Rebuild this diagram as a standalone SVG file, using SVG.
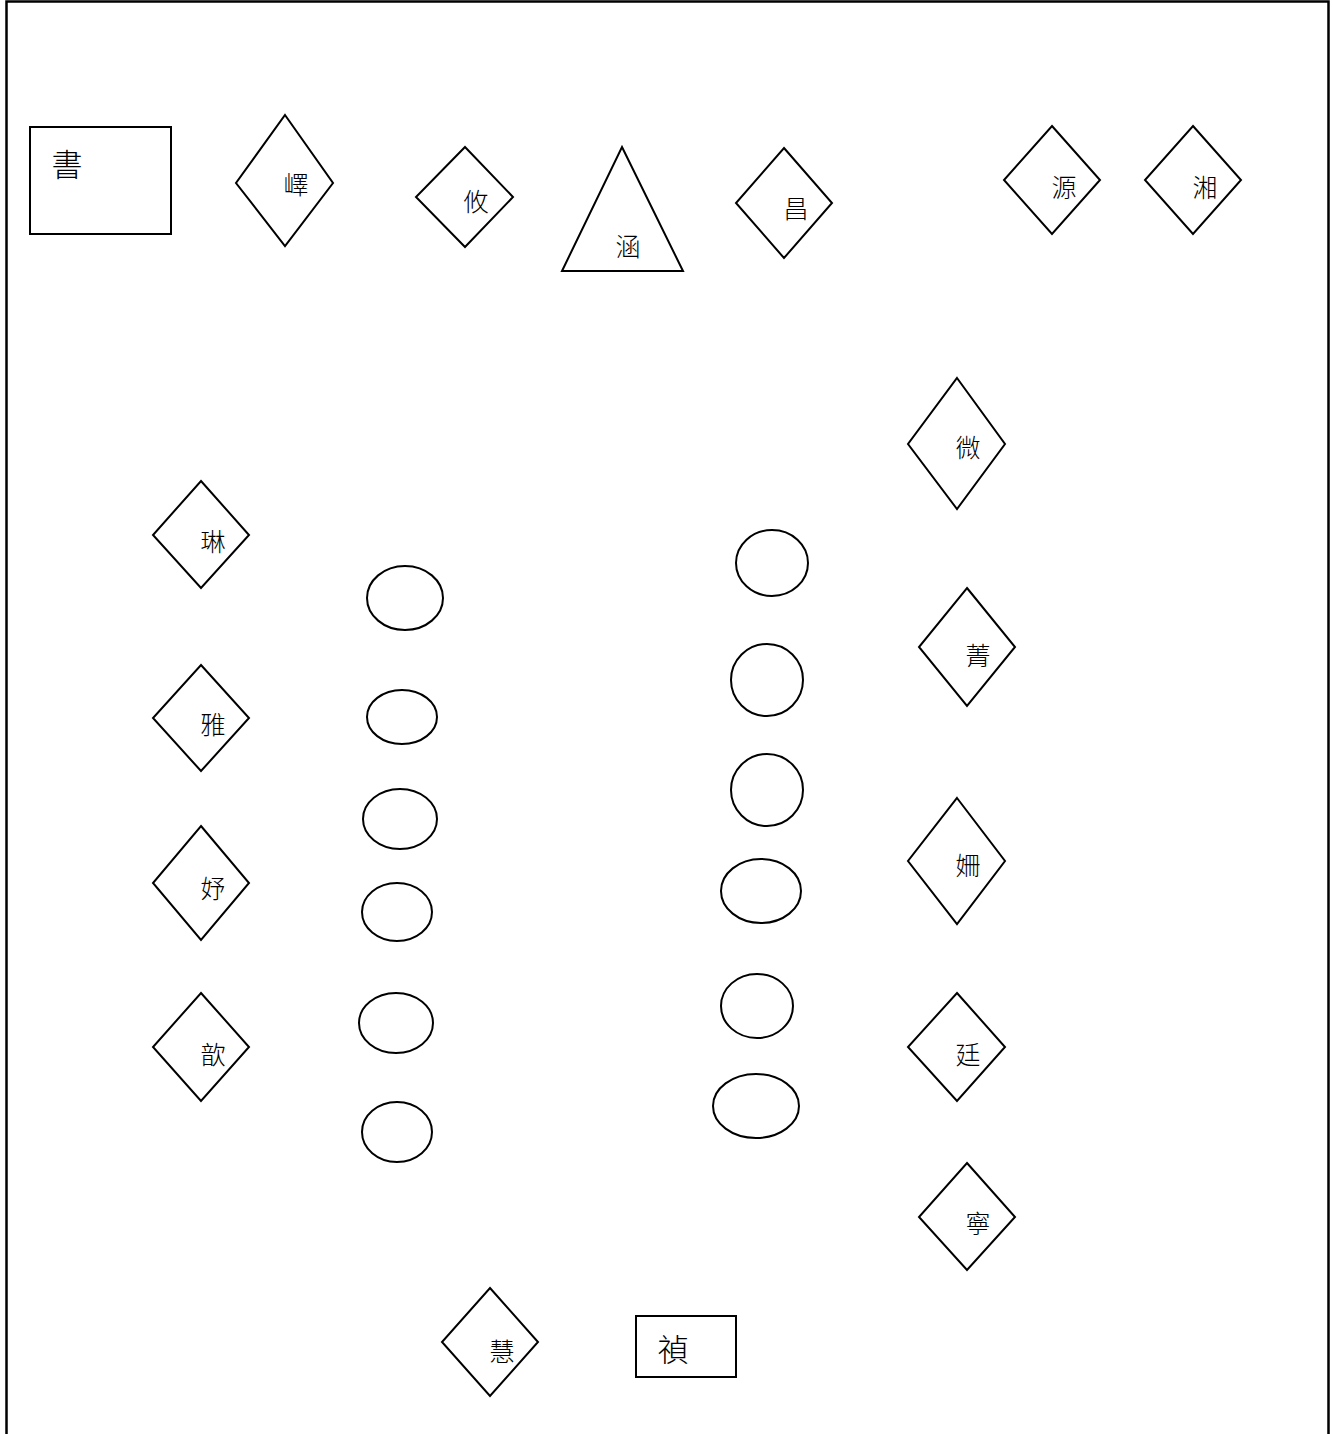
<svg xmlns="http://www.w3.org/2000/svg" width="1333" height="1434" viewBox="0 0 1333 1434">
<style>
.s{fill:#fff;stroke:#000;stroke-width:2}
.t{font-family:"Noto Sans CJK TC","Noto Sans CJK SC",sans-serif;font-size:25px;font-weight:300;fill:#000;text-anchor:middle;dominant-baseline:central}
.tb{font-size:31px}
</style>
<rect x="0" y="0" width="1333" height="1434" fill="#fff"/>
<path d="M6.5,1440 V1.5 H1328.5 V1440" fill="none" stroke="#000" stroke-width="2.5"/>
<g id="n-shu"><rect class="s" x="30" y="127" width="141" height="107"/><text class="t tb" x="67" y="162">書</text></g>
<g id="n-yi"><polygon class="s" points="285,115 333,183 285,246 236,183"/><text class="t" x="296" y="183">嶧</text></g>
<g id="n-you"><polygon class="s" points="465,147 513,197 465,247 416,197"/><text class="t" x="476" y="200">攸</text></g>
<g id="n-han"><polygon class="s" points="622,147 683,271 562,271"/><text class="t" x="628" y="245">涵</text></g>
<g id="n-chang"><polygon class="s" points="784,148 832,203 784,258 736,203"/><text class="t" x="796" y="207">昌</text></g>
<g id="n-yuan"><polygon class="s" points="1052,126 1100,180 1052,234 1004,180"/><text class="t" x="1064" y="186">源</text></g>
<g id="n-xiang"><polygon class="s" points="1193,126 1241,180 1193,234 1145,180"/><text class="t" x="1205" y="186">湘</text></g>
<g id="n-wei"><polygon class="s" points="957,378 1005,444 957,509 908,444"/><text class="t" x="968" y="446">微</text></g>
<g id="n-jing"><polygon class="s" points="967,588 1015,647 967,706 919,647"/><text class="t" x="978" y="654">菁</text></g>
<g id="n-shan"><polygon class="s" points="957,798 1005,861 957,924 908,861"/><text class="t" x="968" y="864">姍</text></g>
<g id="n-ting"><polygon class="s" points="957,993 1005,1047 957,1101 908,1047"/><text class="t" x="968" y="1053">廷</text></g>
<g id="n-ning"><polygon class="s" points="967,1163 1015,1217 967,1270 919,1217"/><text class="t" x="978" y="1222">寧</text></g>
<g id="n-lin"><polygon class="s" points="201,481 249,535 201,588 153,535"/><text class="t" x="213" y="540">琳</text></g>
<g id="n-ya"><polygon class="s" points="201,665 249,718 201,771 153,718"/><text class="t" x="213" y="723">雅</text></g>
<g id="n-yu"><polygon class="s" points="201,826 249,883 201,940 153,883"/><text class="t" x="213" y="887">妤</text></g>
<g id="n-xin"><polygon class="s" points="201,993 249,1047 201,1101 153,1047"/><text class="t" x="213" y="1053">歆</text></g>
<g id="n-hui"><polygon class="s" points="490,1288 538,1342 490,1396 442,1342"/><text class="t" x="502" y="1350">慧</text></g>
<g id="n-zhen"><rect class="s" x="636" y="1316" width="100" height="61"/><text class="t tb" x="673" y="1347">禎</text></g>
<g id="n-e1"><ellipse class="s" cx="405" cy="598" rx="38" ry="32"/></g>
<g id="n-e2"><ellipse class="s" cx="402" cy="717" rx="35" ry="27"/></g>
<g id="n-e3"><ellipse class="s" cx="400" cy="819" rx="37" ry="30"/></g>
<g id="n-e4"><ellipse class="s" cx="397" cy="912" rx="35" ry="29"/></g>
<g id="n-e5"><ellipse class="s" cx="396" cy="1023" rx="37" ry="30"/></g>
<g id="n-e6"><ellipse class="s" cx="397" cy="1132" rx="35" ry="30"/></g>
<g id="n-e7"><ellipse class="s" cx="772" cy="563" rx="36" ry="33"/></g>
<g id="n-e8"><ellipse class="s" cx="767" cy="680" rx="36" ry="36"/></g>
<g id="n-e9"><ellipse class="s" cx="767" cy="790" rx="36" ry="36"/></g>
<g id="n-e10"><ellipse class="s" cx="761" cy="891" rx="40" ry="32"/></g>
<g id="n-e11"><ellipse class="s" cx="757" cy="1006" rx="36" ry="32"/></g>
<g id="n-e12"><ellipse class="s" cx="756" cy="1106" rx="43" ry="32"/></g>
<g id="connectors"></g>
</svg>
